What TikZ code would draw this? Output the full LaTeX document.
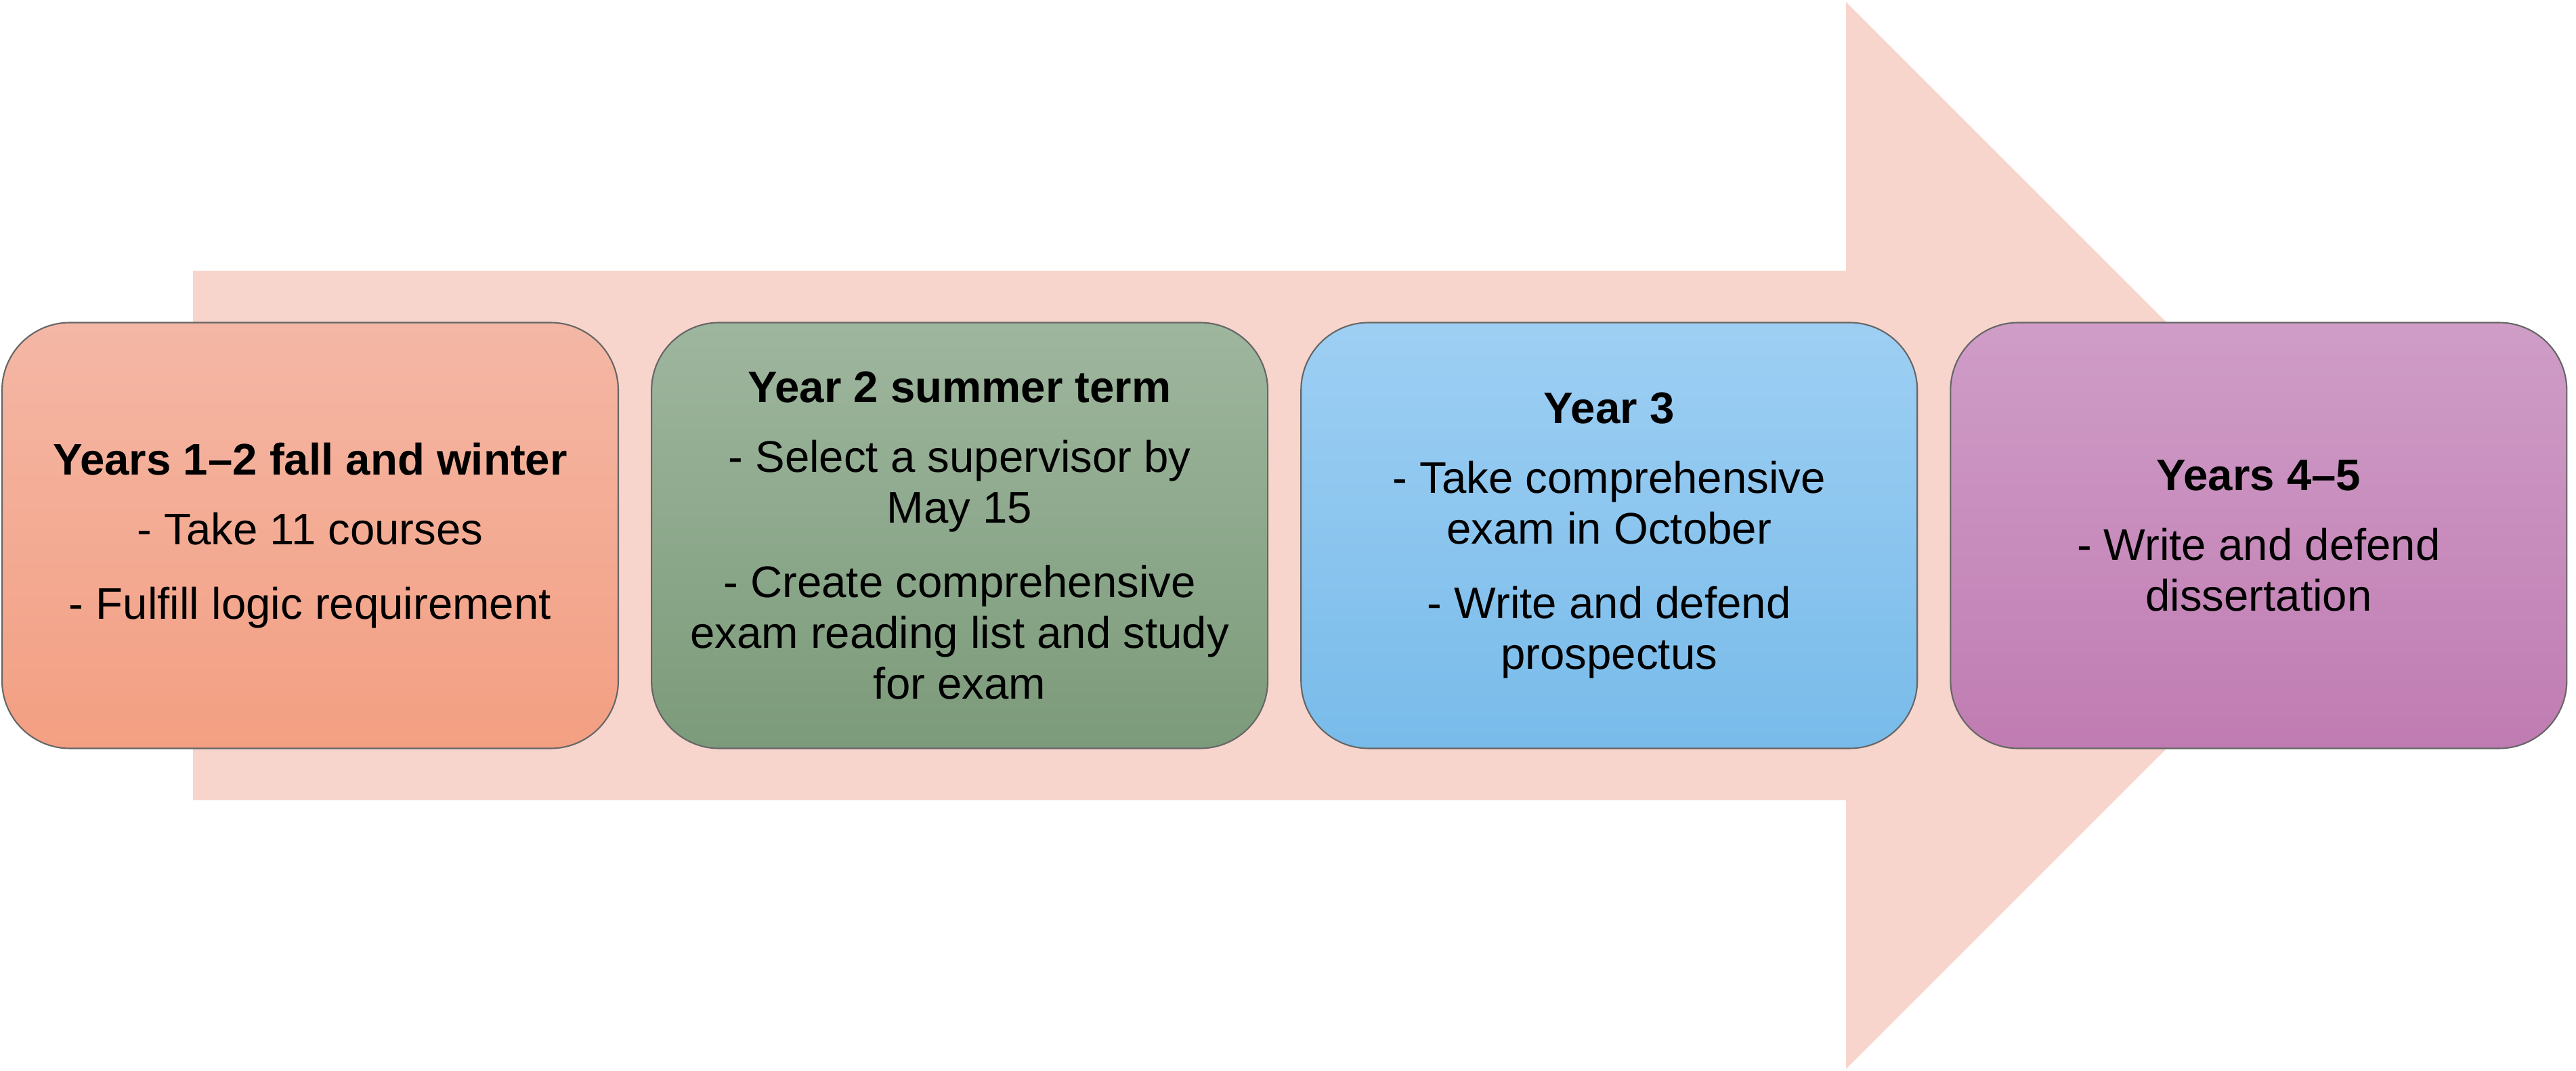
\documentclass[tikz,border=0pt]{standalone}
\usepackage{fontspec}
\setmainfont{Liberation Sans}
\usetikzlibrary{positioning}

\definecolor{arrowfill}{HTML}{F7D5CC}
\definecolor{salmontop}{HTML}{F4B7A5}
\definecolor{salmonbot}{HTML}{F39F82}
\definecolor{greentop}{HTML}{9EB69E}
\definecolor{greenbot}{HTML}{7C9B7A}
\definecolor{bluetop}{HTML}{9ECFF3}
\definecolor{bluebot}{HTML}{78BBEA}
\definecolor{purpletop}{HTML}{CF9DC7}
\definecolor{purplebot}{HTML}{C07CB2}

\begin{document}
\begin{tikzpicture}[node distance=0.47cm,
    stage/.style={draw=black!60, line width=0.6pt, rounded corners=1cm, minimum width=9.1cm, minimum height=6.29cm, inner sep=0pt, align=center, font=\fontsize{18.6}{21.3}\selectfont}]
        \useasboundingbox (0,0) rectangle (38.04,15.81);
        % Big arrow behind the stages
        \fill[arrowfill] (2.85,3.99) -- (2.85,11.81) -- (27.26,11.81) -- (27.26,15.78) -- (35.14,7.9) -- (27.26,0.02) -- (27.26,3.99) -- cycle;
        % Stages of the programme
        \node[stage, top color=salmontop, bottom color=salmonbot] (fallwinter) at (4.58,7.9) {\textbf{Years 1–2 fall and winter}\\[8pt] - Take 11 courses\\[10pt] - Fulfill logic requirement};
        \node[stage, top color=greentop, bottom color=greenbot, right=of fallwinter] (summer) {\textbf{Year 2 summer term}\\[8pt] - Select a supervisor by\\ May 15\\[10pt] - Create comprehensive\\ exam reading list and study\\ for exam};
        \node[stage, top color=bluetop, bottom color=bluebot, right=of summer] (yearthree) {\textbf{Year 3}\\[8pt] - Take comprehensive\\ exam in October\\[10pt] - Write and defend\\ prospectus};
        \node[stage, top color=purpletop, bottom color=purplebot, right=of yearthree] (yearsfourfive) {\textbf{Years 4–5}\\[8pt] - Write and defend\\ dissertation};
    \end{tikzpicture}
\end{document}
